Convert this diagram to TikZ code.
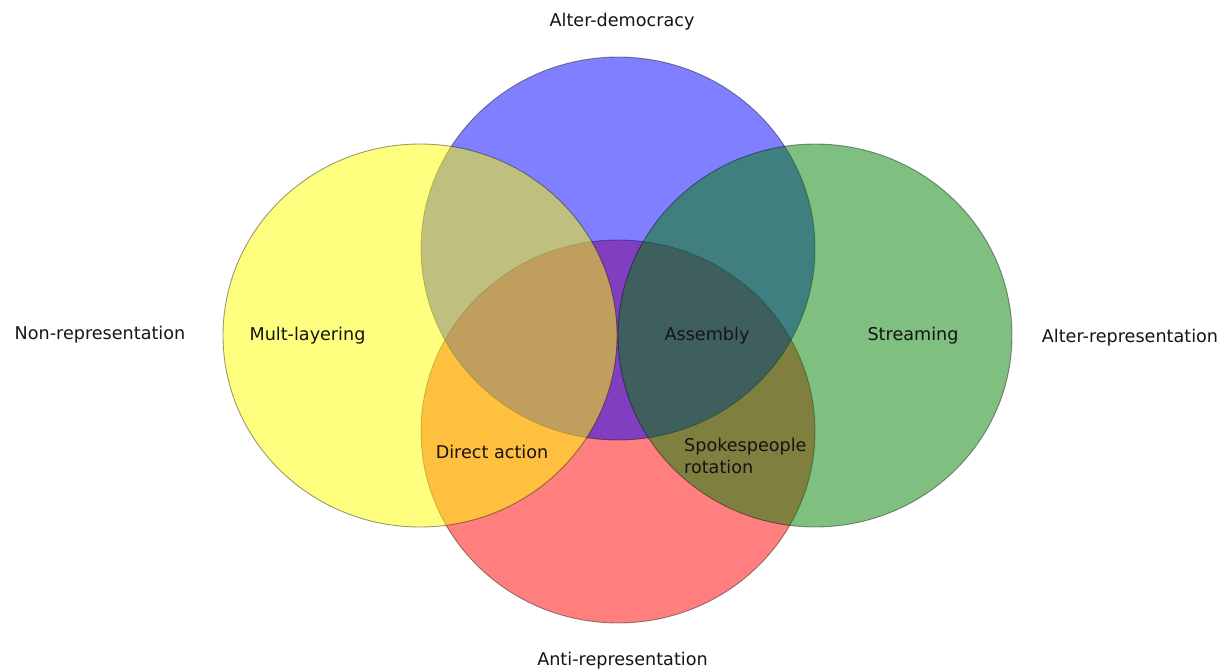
\documentclass[tikz,border=0pt]{standalone}
\usepackage{fontspec}
\setmainfont{DejaVu Sans}
\definecolor{vred}{RGB}{255,0,0}
\definecolor{vblue}{RGB}{0,0,255}
\definecolor{vyellow}{RGB}{255,255,0}
\definecolor{vgreen}{RGB}{0,128,0}
\definecolor{txt}{RGB}{20,20,20}
\tikzset{
  vset/.style={fill=#1, fill opacity=0.5, draw=black, draw opacity=0.4, line width=0.9pt},
  lbl/.style={inner sep=0pt, text=txt, font=\fontsize{17.6}{22}\selectfont},
}
\begin{document}
\begin{tikzpicture}[x=1pt,y=-1pt]
\useasboundingbox (0,0) rectangle (1231,669);
% sets (drawing order gives the overlap colours)
\path[vset=vred]    (618,431.5) ellipse [x radius=197, y radius=191.5];
\path[vset=vblue]   (618,248.5) ellipse [x radius=197, y radius=191.5];
\path[vset=vyellow] (420,335.5) ellipse [x radius=197, y radius=191.5];
\path[vset=vgreen]  (815,335.5) ellipse [x radius=197, y radius=191.5];
% set names
\node[lbl] (altdem)  at (622,22)   {Alter-democracy};
\node[lbl] (nonrep)  at (100,335)  {Non-representation};
\node[lbl] (altrep)  at (1130,338) {Alter-representation};
\node[lbl] (antirep) at (622.5,661) {Anti-representation};
% region labels
\node[lbl] (mult)    at (307.5,336) {Mult-layering};
\node[lbl] (assem)   at (707,336)   {Assembly};
\node[lbl] (stream)  at (913,336)   {Streaming};
\node[lbl] (direct)  at (492,452)   {Direct action};
\node[lbl, anchor=west, align=left] (spokes) at (684,456) {Spokespeople\\rotation};
\end{tikzpicture}
\end{document}
